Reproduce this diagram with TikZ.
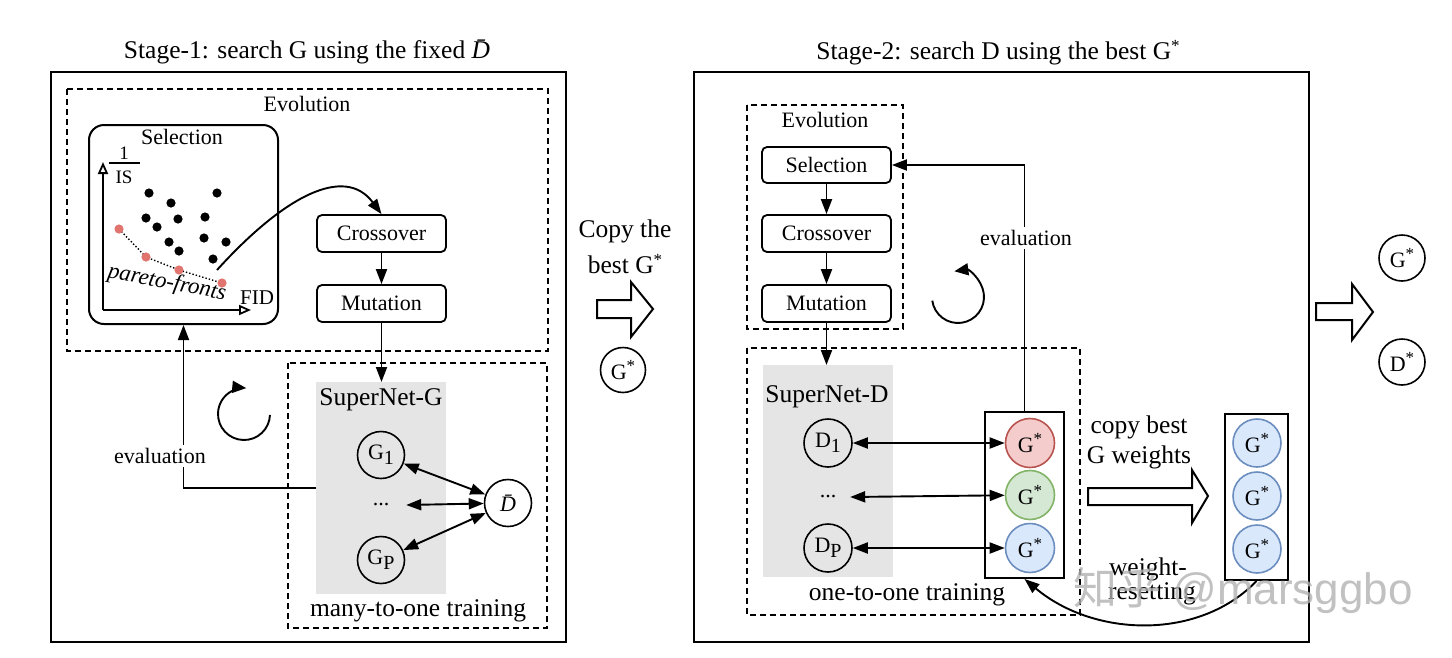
\documentclass[tikz,border=0pt]{standalone}
\usepackage{fontspec}
\setmainfont{Liberation Serif}
\newfontfamily\cjkfont{Noto Sans CJK SC}
\newfontfamily\wmfont{Liberation Sans}
\usetikzlibrary{arrows.meta}
\definecolor{grayfill}{RGB}{229,229,229}
\definecolor{redf}{RGB}{244,204,204}
\definecolor{redd}{RGB}{184,84,80}
\definecolor{greenf}{RGB}{213,232,212}
\definecolor{greend}{RGB}{130,179,102}
\definecolor{bluef}{RGB}{218,232,252}
\definecolor{blued}{RGB}{108,142,191}
\definecolor{paretored}{RGB}{226,116,112}
\newcommand{\st}{\raisebox{8pt}{\fontsize{17}{17}\selectfont *}}
\newcommand{\sbs}[1]{\raisebox{-5pt}{\fontsize{20}{20}\selectfont #1}}
\begin{document}
\begin{tikzpicture}[x=1pt,y=-1pt,
  big/.style={font=\fontsize{25.5}{30}\selectfont},
  mid/.style={font=\fontsize{22}{26}\selectfont},
  frame/.style={draw,line width=2pt},
  dbox/.style={draw,line width=1.6pt,dash pattern=on 6pt off 4pt},
  stepbox/.style={draw,rounded corners=5pt,line width=1.8pt,minimum width=129pt,minimum height=37pt,inner sep=0pt,mid},
  ball/.style={circle,draw,line width=1.6pt,minimum size=47pt,inner sep=0pt,font=\fontsize{22}{26}\selectfont},
  conn/.style={line width=1.9pt,-{Triangle[length=15pt,width=11pt]}},
  dconn/.style={line width=1.9pt,{Triangle[length=15pt,width=11pt]}-{Triangle[length=15pt,width=11pt]}},
  axis/.style={line width=1.8pt,-{Triangle[open,length=12pt,width=10pt]}},
  rotarrow/.style={line width=1.9pt,-{Triangle[length=14pt,width=12pt]}},
  blockarrow/.style={draw,line width=2pt,fill=white,line join=miter},
  grayarea/.style={fill=grayfill,inner sep=0pt,anchor=north west,minimum width=130pt,minimum height=212pt},
  gsbox/.style={draw,line width=2pt,inner sep=0pt,anchor=north west,minimum width=79pt,minimum height=166pt},
]
\useasboundingbox (0,0) rectangle (1452,657);

% ================= Stage 1 =================
\node[big] (t1) at (307,52) {Stage-1: search G using the fixed {\itshape\=D}};
\draw[frame] (51,72) rectangle (566,642);
\draw[dbox] (67,89) rectangle (548,351);
\node[mid] (evo1) at (307,104) {Evolution};

\node[draw,rounded corners=15pt,line width=2pt,minimum width=189pt,minimum height=199pt,anchor=north west,inner sep=0pt] (sel1) at (88,124) {};
\node[mid] (sel1t) at (182,137) {Selection};
\coordinate (ax) at (103,310);
\coordinate (axy) at (103,162);
\coordinate (axx) at (251,310);
\draw[axis] (ax) -- (axy);
\draw[axis] (ax) -- (axx);
\node[font=\fontsize{19}{22}\selectfont] (one) at (124,153) {1};
\node[font=\fontsize{19}{22}\selectfont] (is) at (124,177) {IS};
\draw[line width=1.3pt] (109,163) -- (140,163);
\node[font=\fontsize{21}{24}\selectfont] (fid) at (257,298) {FID};
\foreach \px/\py in {149/193,171/203,217/193,146/218,178/219,205/217,157/227,169/242,204/238,226/242,179/251,213/259}
  \fill (\px,\py) circle (4.6pt);
\draw[dotted,line width=1.4pt] (119,229) -- (146,257) -- (179,270) -- (222,283);
\foreach \px/\py in {119/229,146/257,179/270,222/283}
  \fill[paretored] (\px,\py) circle (4.6pt);
\node[font=\fontsize{23}{26}\selectfont\itshape,rotate=-11] (pf) at (167,283) {pareto-fronts};

\node[stepbox] (cr1) at (381.5,233.5) {Crossover};
\node[stepbox] (mu1) at (381.5,303.5) {Mutation};
\coordinate (cs) at (217,270);
\draw[conn] (cs) .. controls (285,195) and (345,165) .. (cr1.north);
\draw[conn] (cr1) -- (mu1);

\draw[dbox] (288,363) rectangle (547,628);
\node[grayarea] (sg1) at (316,382) {};
\draw[conn] (mu1.south) -- (mu1.south |- sg1.north);
\node[big] (sng) at (381,400) {SuperNet-G};
\node[ball] (g1) at (381,455) {G\sbs{1}};
\node[mid,minimum width=50pt] (gd) at (381,505) {...};
\node[ball] (gp) at (381,560) {G\sbs{P}};
\node[ball] (db) at (508,503) {\itshape\=D};
\draw[dconn] (g1) -- (db);
\draw[dconn] (gd.east) -- (db);
\draw[dconn] (gp) -- (db);
\node[big] (m2o) at (418,611) {many-to-one training};

\coordinate (fb) at (316,488);
\draw[conn] (fb) -| (sel1.south);
\node[mid,fill=white,inner sep=3pt] (ev1) at (160,456) {evaluation};
\draw[rotarrow] (244,414) ++(2:26) arc[start angle=2, end angle=275, radius=26];

% ================= middle =================
\node[big] (cp1) at (625,231) {Copy the};
\node[big] (cp2) at (625,264) {best G\st};
\draw[blockarrow] (597,300) -- (631,300) -- (631,282) -- (653,309) -- (631,337) -- (631,318) -- (597,318) -- cycle;
\node[ball,minimum size=45pt] (gs1) at (623,370) {G\st};

% ================= Stage 2 =================
\node[big] (t2) at (998,53) {Stage-2: search D using the best G\st};
\draw[frame] (694,72) rectangle (1309,642);
\draw[dbox] (747,105) rectangle (903,329);
\node[mid] (evo2) at (825,120) {Evolution};
\node[stepbox,minimum height=36pt] (sel2) at (826.5,165) {Selection};
\node[stepbox] (cr2) at (826.5,233.5) {Crossover};
\node[stepbox] (mu2) at (826.5,303.5) {Mutation};
\draw[conn] (sel2) -- (cr2);
\draw[conn] (cr2) -- (mu2);
\draw[rotarrow] (958,297) ++(172:26) arc[start angle=172, end angle=-98, radius=26];

\draw[dbox] (747,348) rectangle (1080,615);
\node[grayarea] (sg2) at (763,365) {};
\draw[conn] (mu2.south) -- (mu2.south |- sg2.north);
\node[big] (snd) at (827,397) {SuperNet-D};
\node[ball,minimum size=48pt] (d1) at (828,443) {D\sbs{1}};
\node[mid,minimum width=44pt] (dd) at (828,497) {...};
\node[ball,minimum size=48pt] (dp) at (828,548) {D\sbs{P}};
\node[gsbox] (gb) at (984,411) {};
\node[ball,minimum size=49pt,fill=redf,draw=redd] (gr) at (1030,443) {G\st};
\node[ball,minimum size=49pt,fill=greenf,draw=greend] (gg) at (1030,495) {G\st};
\node[ball,minimum size=49pt,fill=bluef,draw=blued] (gbl) at (1030,548) {G\st};
\draw[dconn] (d1) -- (gr);
\draw[dconn] (dd.east) -- (gg);
\draw[dconn] (dp) -- (gbl);
\node[big] (o2o) at (907,595) {one-to-one training};
\draw[conn] (gb.north) |- (sel2.east);
\node[mid,fill=white,inner sep=3pt] (ev2) at (1026,238) {evaluation};

\node[big] (cb1) at (1139,427) {copy best};
\node[big] (cb2) at (1139,457) {G weights};
\draw[blockarrow] (1088,488) -- (1192,488) -- (1192,470) -- (1208,496) -- (1192,523) -- (1192,505) -- (1088,505) -- cycle;
\node[gsbox,minimum width=63pt] (rb) at (1224,413) {};
\node[ball,minimum size=48pt,fill=bluef,draw=blued] (rb1) at (1257,443) {G\st};
\node[ball,minimum size=48pt,fill=bluef,draw=blued] (rb2) at (1257,496) {G\st};
\node[ball,minimum size=48pt,fill=bluef,draw=blued] (rb3) at (1257,549) {G\st};
\draw[conn] (rb.south) .. controls (1200,640) and (1095,638) .. (gb.south);
\node[big] (wr1) at (1148,569) {weight-};
\node[big] (wr2) at (1152,594) {resetting};

% ================= right =================
\draw[blockarrow] (1316,303) -- (1352,303) -- (1352,284) -- (1373,312) -- (1352,340) -- (1352,320) -- (1316,320) -- cycle;
\node[ball,minimum size=46pt] (gfin) at (1402,258) {G\st};
\node[ball,minimum size=46pt] (dfin) at (1402,362) {D\st};

% watermark
\node[text=black!30,opacity=0.8,font=\fontsize{44}{50}\selectfont,anchor=west] (wm) at (1070,591) {{\cjkfont 知乎} {\wmfont @marsggbo}};
\end{tikzpicture}
\end{document}
